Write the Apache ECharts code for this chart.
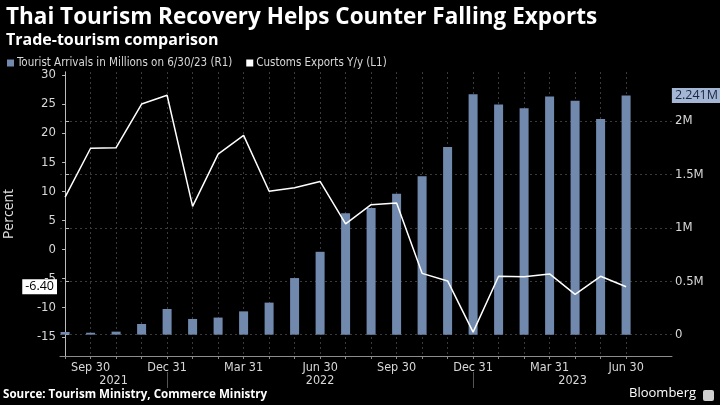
<!DOCTYPE html>
<html><head><meta charset="utf-8">
<script src="https://cdn.jsdelivr.net/npm/echarts@6/dist/echarts.min.js"></script>
<style>html,body{margin:0;padding:0;background:#000}#c{width:720px;height:405px}</style>
</head><body><div id="c"></div>
<script>
// ---- data ----
const months = ['2021-08','2021-09','2021-10','2021-11','2021-12',
  '2022-01','2022-02','2022-03','2022-04','2022-05','2022-06','2022-07','2022-08','2022-09','2022-10','2022-11','2022-12',
  '2023-01','2023-02','2023-03','2023-04','2023-05','2023-06'];
const touristArrivals = [0.025,0.018,0.028,0.10,0.24,0.147,0.16,0.218,0.30,0.53,0.776,1.137,1.187,1.32,1.483,1.757,2.252,2.156,2.12,2.23,2.19,2.02,2.241];
const customsExports = [9.0,17.4,17.5,25.0,26.5,7.4,16.4,19.6,10.0,10.6,11.7,4.4,7.7,8.0,-4.1,-5.4,-14.2,-4.6,-4.7,-4.2,-7.7,-4.6,-6.4];
const quarterEndNames = {3:'Mar 31',6:'Jun 30',9:'Sep 30',12:'Dec 31'};
const leftTickValues = [-15,-10,-5,0,5,10,15,20,25,30];
const rightTickValues = [0,0.5,1,1.5,2];
const seriesNames = ['Tourist Arrivals in Millions on 6/30/23 (R1)','Customs Exports Y/y (L1)'];

// ---- derived ----
const idx = months.map((m,i)=>i);
const monthOf = m => +m.split('-')[1];
const quarterIdx = idx.filter(i => quarterEndNames[monthOf(months[i])]);
const X_MIN = -0.2, X_MAX = 23.8;
const yearBounds = idx.filter(i => monthOf(months[i]) === 12);
const years = [...new Set(months.map(m=>m.split('-')[0]))];
const edges = [X_MIN, ...yearBounds, X_MAX];
const yearCenters = years.map((y,k)=>(edges[k]+edges[k+1])/2);

const labelFont = '"DejaVu Sans Condensed", "Liberation Sans", sans-serif';
const axisGrey = '#8c8c8c';
const txt = '#d8d8d8';

const chart = echarts.init(document.getElementById('c'));
chart.setOption({
  backgroundColor: '#000',
  animation: false,
  title: [
    {text: 'Thai Tourism Recovery Helps Counter Falling Exports', left: 1, top: 1,
     textStyle:{color:'#fff', fontFamily:'Open Sans', fontWeight:'bold', fontSize:22.5}},
    {text: 'Trade-tourism comparison', left: 1, top: 27,
     textStyle:{color:'#fff', fontFamily:'Open Sans', fontWeight:'bold', fontSize:16}}
  ],
  legend: {
    left: 2, top: 52, itemWidth: 7, itemHeight: 7, itemGap: 14, icon: 'rect',
    textStyle:{color:txt, fontFamily:labelFont, fontSize:11.5, padding:[0,0,0,-2]},
    data: seriesNames
  },
  grid: {left: 60, right: 48, top: 72, bottom: 49, outerBoundsMode: 'none', containLabel: false},
  xAxis: [
    {type:'value', min:X_MIN, max:X_MAX,
     axisLine:{show:true, onZero:false, lineStyle:{color:axisGrey}},
     axisTick:{show:true, customValues: idx, length:3, lineStyle:{color:axisGrey}},
     axisLabel:{customValues: quarterIdx, color:txt, fontFamily:labelFont, fontSize:12.5, margin:5,
       formatter: v => quarterEndNames[monthOf(months[Math.round(v)])] || ''},
     splitLine:{show:true, lineStyle:{color:'#3a3a3a', type:[2,3]}}
    },
    {type:'value', min:X_MIN, max:X_MAX, position:'bottom', offset:16,
     axisLine:{show:false, onZero:false},
     axisTick:{show:true, customValues: yearBounds, length:16, lineStyle:{color:'#555'}},
     axisLabel:{customValues: yearCenters, color:txt, fontFamily:labelFont, fontSize:12.5, margin:2,
       formatter: v => years[yearCenters.findIndex(c=>Math.abs(c-v)<1e-6)] || ''},
     splitLine:{show:false}
    }
  ],
  yAxis: [
    {type:'value', min:-18.3, max:30.5, position:'left',
     name:'Percent', nameLocation:'middle', nameGap:44, nameRotate:90,
     nameTextStyle:{color:'#e0e0e0', fontFamily:'Open Sans', fontSize:14},
     axisLine:{show:true, lineStyle:{color:axisGrey}},
     axisTick:{show:true, customValues: leftTickValues, length:3, lineStyle:{color:'#bbb'}},
     axisLabel:{customValues: leftTickValues, color:txt, fontFamily:labelFont, fontSize:13, margin:4},
     splitLine:{show:false},
     axisPointer:{show:true, type:'none', value: customsExports[customsExports.length-1], status:'show',
       triggerTooltip:false,
       label:{show:true, backgroundColor:'#fff', color:'#000', fontFamily:'Open Sans', fontSize:12.5,
         padding:[1,3,1,3], borderRadius:0,
         formatter: p => (+p.value).toFixed(2)}}
    },
    {type:'value', min:-0.2, max:2.46, position:'right',
     axisLine:{show:true, lineStyle:{color:'#bbb'}},
     axisTick:{show:true, customValues: rightTickValues, length:4, lineStyle:{color:'#bbb'}},
     axisLabel:{customValues: rightTickValues, color:txt, fontFamily:labelFont, fontSize:13, margin:3,
       formatter: v => v === 0 ? '0' : v + 'M'},
     splitLine:{show:true, lineStyle:{color:'#3a3a3a', type:[2,3]}},
     axisPointer:{show:true, type:'none', value: touristArrivals[touristArrivals.length-1], status:'show',
       triggerTooltip:false,
       label:{show:true, backgroundColor:'#a3b6d3', color:'#1b2540', fontFamily:'Open Sans', fontSize:12.5,
         padding:[1,2,1,3], borderRadius:0,
         formatter: p => (+p.value).toFixed(3) + 'M'}}
    }
  ],
  axisPointer: {triggerOn: 'none'},
  series: [
    {name: seriesNames[0], type:'bar', xAxisIndex:0, yAxisIndex:1, barWidth:9,
     itemStyle:{color:'#7189ad'},
     data: touristArrivals.map((v,i)=>[i,v]), z:2},
    {name: seriesNames[1], type:'line', xAxisIndex:0, yAxisIndex:0, symbol:'none',
     lineStyle:{color:'#fff', width:1.5}, itemStyle:{color:'#fff'},
     data: customsExports.map((v,i)=>[i,v]), z:3}
  ],
  graphic: [
    {type:'text', left:3, top:389, style:{text:'Source: Tourism Ministry, Commerce Ministry',
      fill:'#fff', font:'bold 11.6px "Open Sans"'}},
    {type:'text', right:24, top:387, style:{text:'Bloomberg', fill:'#fff', font:'13px "Open Sans"'}},
    {type:'rect', right:6, top:390, shape:{width:11, height:11, r:2}, style:{fill:'#cfcfcf'}}
  ]
});
</script></body></html>
